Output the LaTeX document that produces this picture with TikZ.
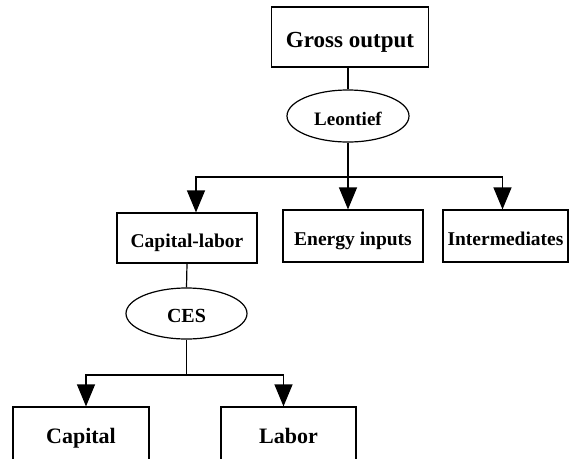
\documentclass[tikz,border=0pt]{standalone}
\usepackage{fontspec}
\setmainfont{Liberation Serif}
\usetikzlibrary{arrows.meta, shapes.geometric}
\tikzset{
  box/.style={draw, rectangle, line width=1.2pt, inner sep=0pt, text height=18pt, text depth=0pt, font=\bfseries\fontsize{19.5}{22}\selectfont},
  oval/.style={draw, ellipse, line width=1.2pt, inner sep=0pt, text height=18pt, text depth=0pt, font=\bfseries\fontsize{19}{22}\selectfont},
  link/.style={line width=1.2pt},
  feed/.style={line width=1.2pt, -{Triangle[length=22pt,width=18pt]}}
}
\begin{document}
\begin{tikzpicture}[x=1pt,y=-1pt]
\clip (0,0) rectangle (572,458);
% top level
\node[box, minimum width=157, minimum height=60, text height=20pt, font=\bfseries\fontsize{23}{26}\selectfont] (gross) at (350,37) {Gross output};
\node[oval, minimum width=122, minimum height=52] (leontief) at (348,116) {Leontief};
\coordinate (split1) at (348,177);

% second level
\node[box, minimum width=140, minimum height=50] (caplab) at (187,238) {Capital-labor};
\node[box, minimum width=140, minimum height=52] (energy) at (353,236) {Energy inputs};
\node[box, minimum width=125, minimum height=52] (inter) at (505.5,236) {Intermediates};

% capital-labor nest
\node[oval, minimum width=121, minimum height=51, font=\bfseries\fontsize{20}{23}\selectfont] (ces) at (186.5,313.5) {CES};
\coordinate (split2) at (186.5,375);
\node[box, minimum width=136, minimum height=56, text height=16pt, font=\bfseries\fontsize{22}{25}\selectfont] (capital) at (81,435) {Capital};
\node[box, minimum width=135, minimum height=56, text height=16pt, font=\bfseries\fontsize{22}{25}\selectfont] (labor) at (288.5,435) {Labor};

\draw[link] (gross.south -| leontief) -- (leontief.north);
\draw[link] (leontief.south) -- (split1);
\draw[feed] (split1) -| ([xshift=9pt]caplab.north);
\draw[feed] (split1) -- (split1 |- energy.north);
\draw[feed] (split1) -| ([xshift=-3pt]inter.north);

\draw[link] (caplab.south) -- (ces.north);
\draw[link] (ces.south) -- (split2);
\draw[feed] (split2) -| ([xshift=5pt]capital.north);
\draw[feed] (split2) -| ([xshift=-5pt]labor.north);
\end{tikzpicture}
\end{document}
